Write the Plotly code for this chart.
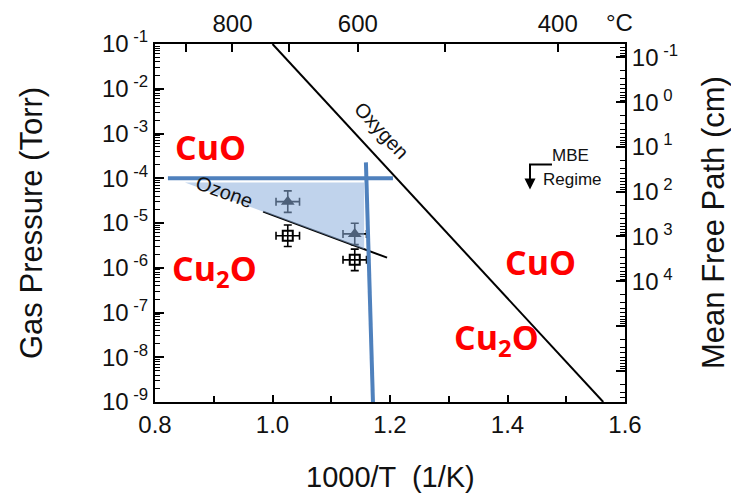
import numpy as np
import plotly.graph_objects as go

# ---------------- data ----------------
oxygen_x = [1.0, 1.563]
oxygen_p = [1e-1, 1e-9]

ozone_x = [0.984, 1.195]
ozone_p = [1.8e-5, 1.68e-6]

tri_x = [1.026, 1.140]
tri_p = [3.0e-5, 5.7e-6]
tri_ex = [0.020, 0.020]

sq_x = [1.026, 1.140]
sq_p = [5.2e-6, 1.5e-6]
sq_ex = [0.020, 0.020]

err_dec = 0.24  # vertical error bar half-length, in decades

blue_h_x = [0.822, 1.205]
blue_h_p = [1e-4, 1e-4]
blue_v_x = [1.159, 1.171]
blue_v_p = [2.26e-4, 1e-9]

shade_x = [0.851, 1.156, 1.156]
shade_p = [8.05e-5, 8.05e-5, 2.6e-6]

mbe_bracket_x = [1.4757, 1.4383, 1.4383]
mbe_bracket_p = [10 ** -3.691, 10 ** -3.691, 10 ** -4.05]
mbe_arrow_tip_p = 10 ** -4.251

temps_c = [900, 800, 700, 600, 500, 400]
temp_labels = ["", "800", "", "600", "", "400"]

y_tickvals = [1e-1, 1e-2, 1e-3, 1e-4, 1e-5, 1e-6, 1e-7, 1e-8, 1e-9]
y_ticktext = ["10<sup> -1</sup>", "10<sup> -2</sup>", "10<sup> -3</sup>", "10<sup> -4</sup>",
              "10<sup> -5</sup>", "10<sup> -6</sup>", "10<sup> -7</sup>", "10<sup> -8</sup>",
              "10<sup> -9</sup>"]

mfp_const = 5e-3  # mean free path (cm) * pressure (Torr)
mfp_tickvals = [1e-1, 1e0, 1e1, 1e2, 1e3, 1e4]
mfp_ticktext = ["10<sup> -1</sup>", "10<sup> 0</sup>", "10<sup> 1</sup>", "10<sup> 2</sup>",
                "10<sup> 3</sup>", "10<sup> 4</sup>"]

# ---------------- figure ----------------
FONT = "Liberation Sans, Arial, sans-serif"
BLUE = "#4F81BD"
TXT = "#111"

fig = go.Figure()

def err_p(p):
    p = np.array(p)
    return dict(type="data", symmetric=False,
                array=list(p * (10 ** err_dec) - p),
                arrayminus=list(p - p / (10 ** err_dec)),
                color="black", thickness=1.6, width=4)

fig.add_trace(go.Scatter(x=oxygen_x, y=oxygen_p, mode="lines",
                         line=dict(color="black", width=2), showlegend=False))
fig.add_trace(go.Scatter(x=ozone_x, y=ozone_p, mode="lines",
                         line=dict(color="black", width=2), showlegend=False))
fig.add_trace(go.Scatter(x=sq_x, y=sq_p, mode="markers",
                         marker=dict(symbol="square-open", size=10, color="black",
                                     line=dict(width=2, color="black")),
                         error_x=dict(type="data", array=sq_ex, color="black", thickness=1.6, width=4),
                         error_y=err_p(sq_p), showlegend=False))
fig.add_trace(go.Scatter(x=tri_x, y=tri_p, mode="markers",
                         marker=dict(symbol="triangle-up", size=12, color="black"),
                         error_x=dict(type="data", array=tri_ex, color="black", thickness=1.6, width=4),
                         error_y=err_p(tri_p), showlegend=False))
# shaded window
fig.add_trace(go.Scatter(x=shade_x, y=shade_p, mode="lines", fill="toself",
                         fillcolor="rgba(140,175,220,0.55)", line=dict(width=0),
                         showlegend=False, hoverinfo="skip"))
# blue lines
fig.add_trace(go.Scatter(x=blue_h_x, y=blue_h_p, mode="lines",
                         line=dict(color=BLUE, width=4), showlegend=False))
fig.add_trace(go.Scatter(x=blue_v_x, y=blue_v_p, mode="lines",
                         line=dict(color=BLUE, width=4), showlegend=False))
# MBE regime bracket
fig.add_trace(go.Scatter(x=mbe_bracket_x, y=mbe_bracket_p, mode="lines",
                         line=dict(color="black", width=2), showlegend=False, hoverinfo="skip"))

# invisible traces to activate secondary axes
for xa, ya, yv in [("x2", "y", 1e-5), ("x", "y2", 1.0), ("x", "y3", 1e-5), ("x", "y4", 1.0)]:
    fig.add_trace(go.Scatter(x=[0.8], y=[yv], xaxis=xa, yaxis=ya, mode="markers",
                             marker=dict(opacity=0), showlegend=False, hoverinfo="skip"))

axis_common = dict(showline=True, linecolor="black", linewidth=2, mirror=False,
                   ticks="inside", tickcolor="black", tickwidth=1.5,
                   showgrid=False, zeroline=False, automargin=False,
                   tickfont=dict(family=FONT, size=24, color=TXT))

inv_t = [1000.0 / (t + 273.15) for t in temps_c]
mfp_range = [np.log10(mfp_const / 1e-9), np.log10(mfp_const / 1e-1)]
minor_log = dict(ticks="inside", ticklen=5, tickcolor="black", tickwidth=1.3, dtick="D1", showgrid=False)

fig.update_layout(
    width=731, height=498,
    margin=dict(l=155, r=106, t=44, b=96, autoexpand=False),
    paper_bgcolor="white", plot_bgcolor="white",
    xaxis=dict(**axis_common, range=[0.8, 1.6], tickmode="linear", tick0=0.8, dtick=0.2,
               tickformat=".1f", ticklen=7,
               minor=dict(ticks="inside", ticklen=6, tickcolor="black", tickwidth=1.5,
                          dtick=0.1, showgrid=False)),
    xaxis2=dict(**axis_common, overlaying="x", side="top", range=[0.8, 1.6],
                tickvals=inv_t, ticktext=temp_labels, ticklen=8),
    yaxis=dict(**axis_common, type="log", range=[-9, -1], tickvals=y_tickvals,
               ticktext=y_ticktext, ticklen=9),
    yaxis3=dict(type="log", range=[-9, -1], overlaying="y", side="left", showline=False,
                showgrid=False, zeroline=False, showticklabels=False, tickmode="linear",
                automargin=False,
                dtick=1, ticks="inside", ticklen=9, tickwidth=1.5, tickcolor="black",
                minor=minor_log),
    yaxis2=dict(**axis_common, type="log", overlaying="y", side="right",
                range=mfp_range, tickvals=mfp_tickvals, ticktext=mfp_ticktext, ticklen=9),
    yaxis4=dict(type="log", range=mfp_range, overlaying="y", side="right", showline=False,
                showgrid=False, zeroline=False, showticklabels=False, tickmode="linear",
                automargin=False,
                dtick=1, ticks="inside", ticklen=9, tickwidth=1.5, tickcolor="black",
                minor=minor_log),
)

RED = "#FF0000"
red_font = dict(family="Open Sans, Liberation Sans, sans-serif", size=34, color=RED)

def ann(x, p, text, **kw):
    fig.add_annotation(x=x, y=np.log10(p), xref="x", yref="y", text=text,
                       showarrow=False, **kw)

ann(0.894, 10 ** -3.30, "<b>CuO</b>", font=red_font)
ann(0.902, 10 ** -6.05, "<b>Cu<sub>2</sub>O</b>", font=red_font)
ann(1.457, 10 ** -5.87, "<b>CuO</b>", font=red_font)
ann(1.382, 10 ** -7.60, "<b>Cu<sub>2</sub>O</b>", font=red_font)

ann(0.919, 10 ** -4.30, "Ozone", textangle=20, font=dict(family=FONT, size=20, color=TXT))
ann(1.185, 10 ** -2.93, "Oxygen", textangle=47, font=dict(family=FONT, size=20, color=TXT))
ann(1.5064, 10 ** -3.50, "MBE", font=dict(family=FONT, size=17, color=TXT))
ann(1.5098, 10 ** -4.03, "Regime", font=dict(family=FONT, size=17, color=TXT))

# MBE regime arrow head
fig.add_annotation(x=mbe_bracket_x[-1], y=np.log10(mbe_arrow_tip_p),
                   ax=mbe_bracket_x[-1], ay=np.log10(mbe_bracket_p[-1]),
                   xref="x", yref="y", axref="x", ayref="y", text="", showarrow=True,
                   arrowhead=2, arrowsize=1.1, arrowwidth=2, arrowcolor="black")

# °C label
fig.add_annotation(x=(619 - 155) / 470, y=1, xref="paper", yref="paper", yanchor="bottom",
                   xanchor="center", yshift=6, text="°C", showarrow=False,
                   font=dict(family=FONT, size=24, color=TXT))
# axis titles
fig.add_annotation(x=0.5, y=0, xref="paper", yref="paper", xanchor="center", yanchor="middle",
                   yshift=-75, text="1000/T  (1/K)", showarrow=False,
                   font=dict(family=FONT, size=29, color=TXT))
fig.add_annotation(x=0, y=0.5, xref="paper", yref="paper", xanchor="center", yanchor="middle",
                   xshift=-124, text="Gas Pressure (Torr)", textangle=-90, showarrow=False,
                   font=dict(family=FONT, size=31, color=TXT))
fig.add_annotation(x=1, y=0.5, xref="paper", yref="paper", xanchor="center", yanchor="middle",
                   xshift=88, text="Mean Free Path (cm)", textangle=-90, showarrow=False,
                   font=dict(family=FONT, size=31, color=TXT))

fig.write_html("out.html")
